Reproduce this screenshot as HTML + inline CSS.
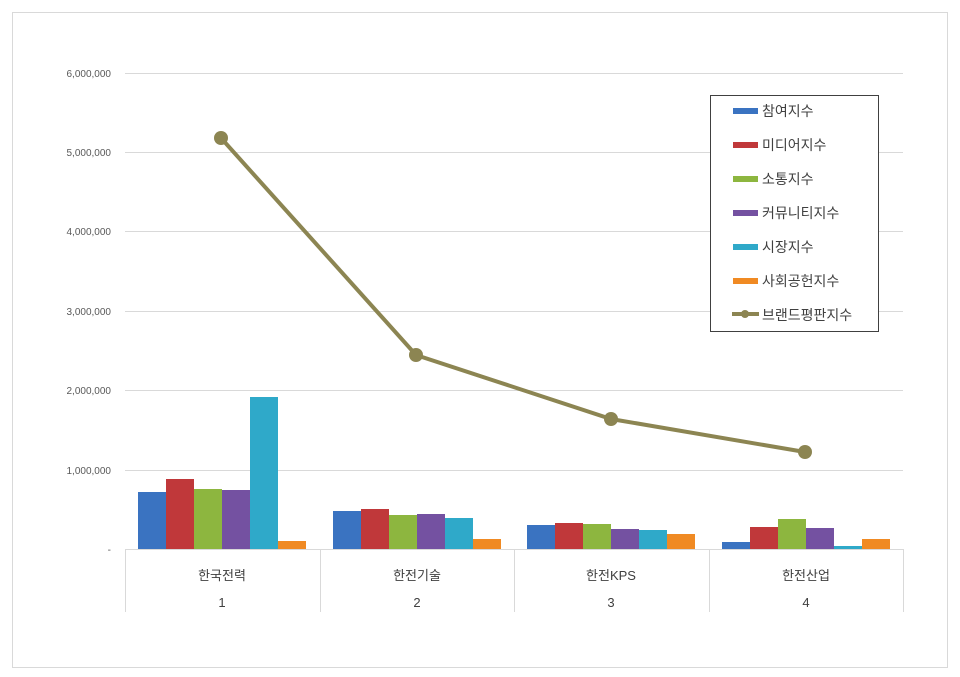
<!DOCTYPE html><html><head><meta charset="utf-8"><style>body{margin:0;background:#fff}svg{display:block}text{font-family:"Liberation Sans","Noto Sans CJK KR",sans-serif}</style></head><body>
<svg width="960" height="677" viewBox="0 0 960 677">
<rect x="12.5" y="12.5" width="935" height="655" fill="#fff" stroke="#d9d9d9"/>
<g stroke="#d9d9d9" stroke-width="1">
<line x1="125" y1="73.5" x2="903" y2="73.5"/><line x1="125" y1="152.5" x2="903" y2="152.5"/><line x1="125" y1="231.5" x2="903" y2="231.5"/><line x1="125" y1="311.5" x2="903" y2="311.5"/><line x1="125" y1="390.5" x2="903" y2="390.5"/><line x1="125" y1="470.5" x2="903" y2="470.5"/><line x1="125" y1="549.5" x2="903" y2="549.5"/>
<line x1="125.5" y1="549" x2="125.5" y2="612"/><line x1="320.5" y1="549" x2="320.5" y2="612"/><line x1="514.5" y1="549" x2="514.5" y2="612"/><line x1="709.5" y1="549" x2="709.5" y2="612"/><line x1="903.5" y1="549" x2="903.5" y2="612"/>
</g>
<g font-size="10" fill="#595959" text-anchor="end">
<text x="111" y="77">6,000,000</text><text x="111" y="156">5,000,000</text><text x="111" y="235">4,000,000</text><text x="111" y="315">3,000,000</text><text x="111" y="394">2,000,000</text><text x="111" y="474">1,000,000</text><text x="111" y="553">-</text>
</g>
<g font-size="13" fill="#404040" text-anchor="middle">
<text x="222" y="580">한국전력</text><text x="417" y="580">한전기술</text><text x="611" y="580">한전KPS</text><text x="806" y="580">한전산업</text>
<text x="222" y="607">1</text><text x="417" y="607">2</text><text x="611" y="607">3</text><text x="806" y="607">4</text>
</g>
<g>
<rect x="138" y="492" width="28" height="57" fill="#3a73c1"/><rect x="166" y="479" width="28" height="70" fill="#c0383a"/><rect x="194" y="489" width="28" height="60" fill="#8db63f"/><rect x="222" y="490" width="28" height="59" fill="#7451a1"/><rect x="250" y="397" width="28" height="152" fill="#2fa9c9"/><rect x="278" y="541" width="28" height="8" fill="#f08a23"/>
<rect x="333" y="511" width="28" height="38" fill="#3a73c1"/><rect x="361" y="509" width="28" height="40" fill="#c0383a"/><rect x="389" y="515" width="28" height="34" fill="#8db63f"/><rect x="417" y="514" width="28" height="35" fill="#7451a1"/><rect x="445" y="518" width="28" height="31" fill="#2fa9c9"/><rect x="473" y="539" width="28" height="10" fill="#f08a23"/>
<rect x="527" y="525" width="28" height="24" fill="#3a73c1"/><rect x="555" y="523" width="28" height="26" fill="#c0383a"/><rect x="583" y="524" width="28" height="25" fill="#8db63f"/><rect x="611" y="529" width="28" height="20" fill="#7451a1"/><rect x="639" y="530" width="28" height="19" fill="#2fa9c9"/><rect x="667" y="534" width="28" height="15" fill="#f08a23"/>
<rect x="722" y="542" width="28" height="7" fill="#3a73c1"/><rect x="750" y="527" width="28" height="22" fill="#c0383a"/><rect x="778" y="519" width="28" height="30" fill="#8db63f"/><rect x="806" y="528" width="28" height="21" fill="#7451a1"/><rect x="834" y="546" width="28" height="3" fill="#2fa9c9"/><rect x="862" y="539" width="28" height="10" fill="#f08a23"/>
</g>
<polyline points="221,138 416,355 611,419 805,452" fill="none" stroke="#8c8552" stroke-width="4"/>
<g fill="#8c8552"><circle cx="221" cy="138" r="7"/><circle cx="416" cy="355" r="7"/><circle cx="611" cy="419" r="7"/><circle cx="805" cy="452" r="7"/></g>
<rect x="710.5" y="95.5" width="168" height="236" fill="#fff" stroke="#404040"/>
<g font-size="14" fill="#404040">
<rect x="733" y="108" width="25" height="6" fill="#3a73c1"/><text x="762" y="116">참여지수</text>
<rect x="733" y="142" width="25" height="6" fill="#c0383a"/><text x="762" y="150">미디어지수</text>
<rect x="733" y="176" width="25" height="6" fill="#8db63f"/><text x="762" y="184">소통지수</text>
<rect x="733" y="210" width="25" height="6" fill="#7451a1"/><text x="762" y="218">커뮤니티지수</text>
<rect x="733" y="244" width="25" height="6" fill="#2fa9c9"/><text x="762" y="252">시장지수</text>
<rect x="733" y="278" width="25" height="6" fill="#f08a23"/><text x="762" y="286">사회공헌지수</text>
<line x1="732" y1="314" x2="759" y2="314" stroke="#8c8552" stroke-width="4"/><circle cx="745" cy="314" r="4" fill="#8c8552"/><text x="762" y="320">브랜드평판지수</text>
</g>
</svg></body></html>
